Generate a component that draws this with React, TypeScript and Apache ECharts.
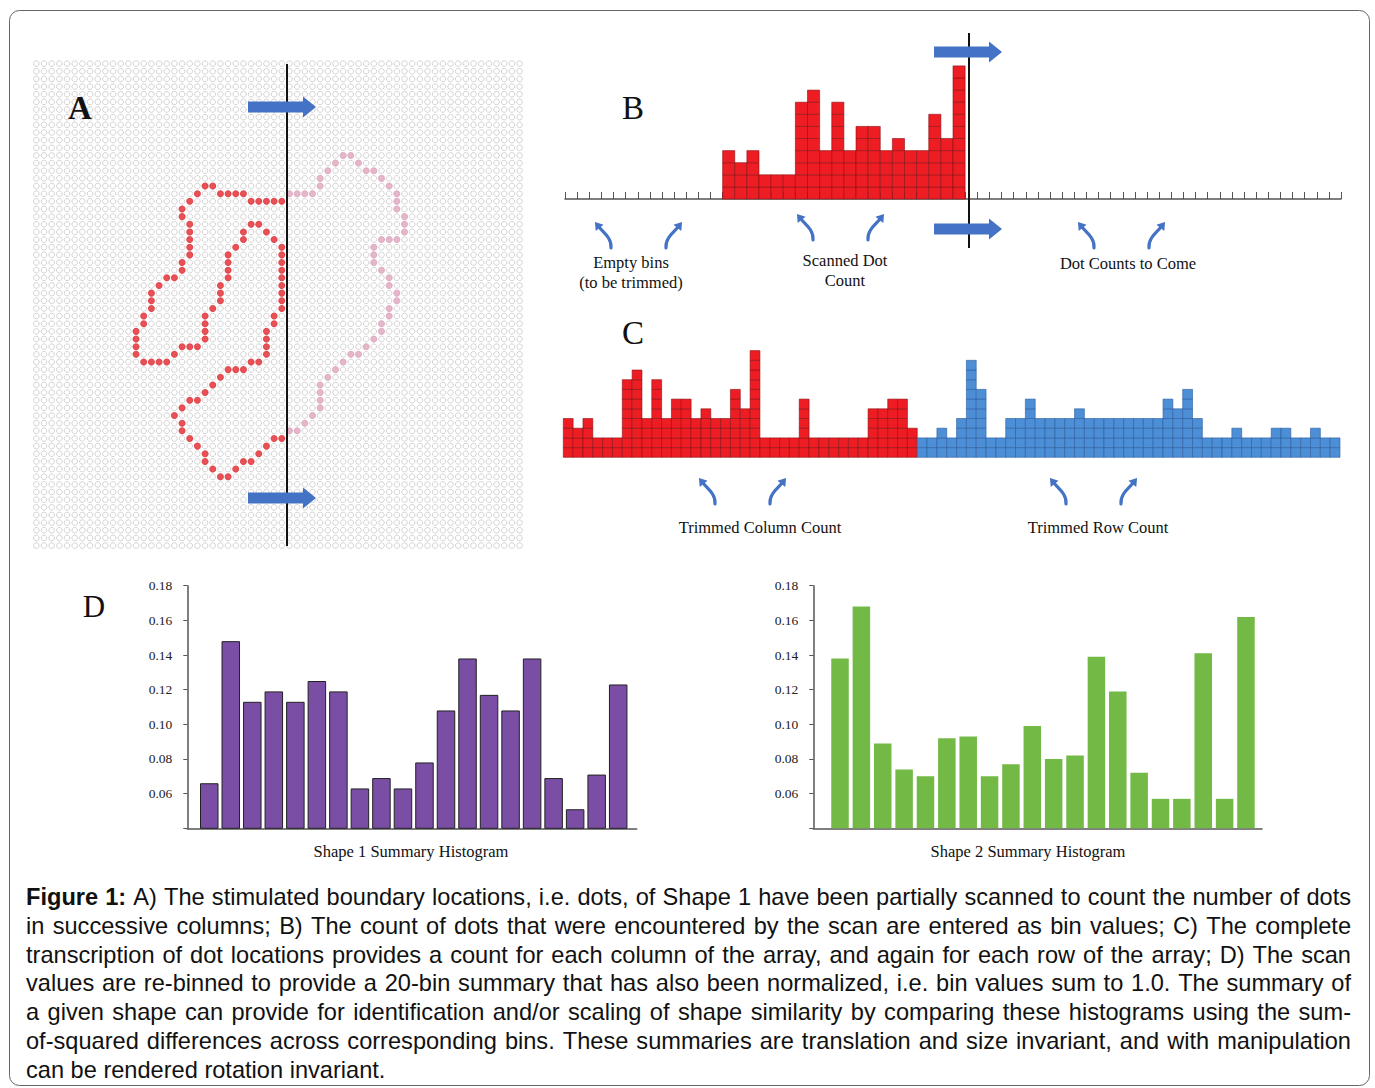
import React, { useEffect, useRef } from 'react';
import * as echarts from 'echarts';

// ---------- DATA ----------
const GRID_SIZE = 64; // 64 x 64 dot array
const SCAN_LAST_COL = 32; // columns <= this have been scanned
const SHAPE_FIRST_ROW = 12;
// columns of Shape 1 boundary dots, one list per row starting at SHAPE_FIRST_ROW
const SHAPE_ROWS: number[][] = [
  [40, 41],
  [39, 42],
  [38, 43, 44],
  [37, 45],
  [22, 23, 37, 46],
  [21, 24, 25, 26, 27, 33, 34, 35, 36, 47],
  [20, 28, 29, 30, 31, 32, 47],
  [19, 47],
  [19, 48],
  [20, 28, 29, 48],
  [20, 27, 30, 48],
  [20, 27, 31, 45, 46, 47],
  [20, 26, 32, 44],
  [20, 25, 32, 44],
  [19, 25, 32, 44],
  [19, 25, 32, 45],
  [17, 18, 25, 32, 46],
  [16, 24, 32, 46],
  [15, 24, 32, 47],
  [15, 24, 32, 47],
  [15, 23, 32, 46],
  [14, 22, 31, 46],
  [14, 22, 31, 45],
  [13, 22, 30, 45],
  [13, 22, 30, 44],
  [13, 19, 20, 21, 30, 43],
  [13, 18, 30, 41, 42],
  [14, 15, 16, 17, 28, 29, 40],
  [25, 26, 27, 39],
  [24, 38],
  [23, 37],
  [22, 37],
  [20, 21, 37],
  [19, 37],
  [18, 36],
  [19, 35],
  [19, 33, 34],
  [20, 31, 32],
  [21, 30],
  [22, 29],
  [22, 27, 28],
  [23, 26],
  [24, 25],
];

const SCAN_BINS = 64;
const SCAN_BIN_START = 13;
const SCANNED_COUNTS = [4, 3, 4, 2, 2, 2, 8, 9, 4, 8, 4, 6, 6, 4, 5, 4, 4, 7, 5, 11];

const COLUMN_COUNTS = [
  4, 3, 4, 2, 2, 2, 8, 9, 4, 8, 4, 6, 6, 4, 5, 4, 4, 7, 5, 11,
  2, 2, 2, 2, 6, 2, 2, 2, 2, 2, 2, 5, 5, 6, 6, 3,
];
const ROW_COUNTS = [
  2, 2, 3, 2, 4, 10, 7, 2, 2, 4, 4, 6, 4, 4, 4, 4, 5, 4, 4, 4, 4, 4,
  4, 4, 4, 6, 5, 7, 4, 2, 2, 2, 3, 2, 2, 2, 3, 3, 2, 2, 3, 2, 2,
];

const SHAPE1_HIST = [
  0.066, 0.148, 0.113, 0.119, 0.113, 0.125, 0.119, 0.063, 0.069, 0.063,
  0.078, 0.108, 0.138, 0.117, 0.108, 0.138, 0.069, 0.051, 0.071, 0.123,
];
const SHAPE2_HIST = [
  0.138, 0.168, 0.089, 0.074, 0.07, 0.092, 0.093, 0.07, 0.077, 0.099,
  0.08, 0.082, 0.139, 0.119, 0.072, 0.057, 0.057, 0.141, 0.057, 0.162,
];
const HIST_MIN = 0.04;
const HIST_MAX = 0.18;
const HIST_STEP = 0.02;

const CAPTION_LINES = [
  'Figure 1: A) The stimulated boundary locations, i.e. dots, of Shape 1 have been partially scanned to count the number of dots',
  'in successive columns; B) The count of dots that were encountered by the scan are entered as bin values; C) The complete',
  'transcription of dot locations provides a count for each column of the array, and again for each row of the array; D) The scan',
  'values are re-binned to provide a 20-bin summary that has also been normalized, i.e. bin values sum to 1.0. The summary of',
  'a given shape can provide for identification and/or scaling of shape similarity by comparing these histograms using the sum-',
  'of-squared differences across corresponding bins. These summaries are translation and size invariant, and with manipulation',
  'can be rendered rotation invariant.',
];

// ---------- STYLE ----------
const SERIF = '"Liberation Serif", "DejaVu Serif", serif';
const SANS = '"Liberation Sans", Arial, sans-serif';
const BLUE = '#4472c4';
const RED = '#ee1d23';
const RED_LINE = '#8a1014';
const CELL_BLUE = '#4d8fd6';
const CELL_BLUE_LINE = '#2a5c9e';
const TOP_Z = 100;

let measureCtx: CanvasRenderingContext2D | null = null;
function textWidth(t: string, font: string) {
  if (!measureCtx) measureCtx = document.createElement('canvas').getContext('2d');
  measureCtx!.font = font;
  return measureCtx!.measureText(t).width;
}

function cellColumns(fill: string, stroke: string) {
  return (_p: any, api: any) => {
    const idx = api.value(0);
    const n = api.value(1);
    const sz = api.size([1, 1]);
    const w = sz[0];
    const h = sz[1];
    const children: any[] = [];
    for (let k = 0; k < n; k++) {
      const p = api.coord([idx, k + 0.5]);
      children.push({
        type: 'rect',
        shape: { x: p[0] - w / 2, y: p[1] - h / 2, width: w, height: h },
        style: { fill, stroke, lineWidth: 0.6 },
      });
    }
    return { type: 'group', children };
  };
}

function blockArrow(x0: number, yc: number) {
  const L = 68, sh = 5.5, hh = 10.5, hl = 13;
  return {
    type: 'polygon',
    shape: {
      points: [
        [x0, yc - sh], [x0 + L - hl, yc - sh], [x0 + L - hl, yc - hh], [x0 + L, yc],
        [x0 + L - hl, yc + hh], [x0 + L - hl, yc + sh], [x0, yc + sh],
      ],
    },
    style: { fill: BLUE },
    z: TOP_Z,
  };
}

function curlyArrow(x: number, y: number, mirror: boolean) {
  const W = 24;
  const X = (px: number) => (mirror ? x + W - px : x + px);
  const Y = (py: number) => y + py;
  const tail = [18, 27], c1 = [19, 17], c2 = [10, 11], end = [6, 6];
  let dx = end[0] - c2[0], dy = end[1] - c2[1];
  const len = Math.hypot(dx, dy);
  dx /= len; dy /= len;
  const nx = -dy, ny = dx;
  const tip = [end[0] + dx * 6.5, end[1] + dy * 6.5];
  const b = [end[0] - dx * 1, end[1] - dy * 1];
  const pts = [tip, [b[0] + nx * 5, b[1] + ny * 5], [b[0] - nx * 5, b[1] - ny * 5]].map((p) => [X(p[0]), Y(p[1])]);
  return [
    {
      type: 'bezierCurve',
      shape: { x1: X(tail[0]), y1: Y(tail[1]), cpx1: X(c1[0]), cpy1: Y(c1[1]), cpx2: X(c2[0]), cpy2: Y(c2[1]), x2: X(end[0]), y2: Y(end[1]) },
      style: { stroke: BLUE, lineWidth: 3.2, fill: null, lineCap: 'round' },
      z: TOP_Z,
    },
    { type: 'polygon', shape: { points: pts }, style: { fill: BLUE }, z: TOP_Z },
  ];
}

function label(text: string, x: number, y: number, size: number, opts: any = {}) {
  return {
    type: 'text',
    z: TOP_Z,
    style: {
      text, x, y, fill: '#111', fontSize: size, fontFamily: opts.family || SERIF,
      fontWeight: opts.weight || 'normal', textAlign: opts.align || 'center', textVerticalAlign: 'middle',
    },
  };
}

function captionElements() {
  const els: any[] = [];
  const size = 23.6;
  const left = 26, right = 1351;
  const W = right - left;
  CAPTION_LINES.forEach((line, li) => {
    const y = 897 + li * 28.8;
    const words = line.split(' ');
    const fonts = words.map((_, wi) => (li === 0 && wi < 2 ? 'bold' : 'normal'));
    const widths = words.map((w, wi) => textWidth(w, `${fonts[wi]} ${size}px ${SANS}`));
    const total = widths.reduce((a, b) => a + b, 0);
    const last = li === CAPTION_LINES.length - 1;
    const space = textWidth(' ', `normal ${size}px ${SANS}`);
    const gap = last ? space : (W - total) / (words.length - 1);
    let x = left;
    words.forEach((w, wi) => {
      els.push({
        type: 'text',
        z: TOP_Z,
        style: { text: w, x, y, fill: '#111', fontSize: size, fontFamily: SANS, fontWeight: fonts[wi], textAlign: 'left', textVerticalAlign: 'middle' },
      });
      x += widths[wi] + gap;
    });
  });
  return els;
}

export default function App() {
  const ref = useRef<HTMLDivElement>(null);
  useEffect(() => {
    document.body.style.margin = '0';
    document.body.style.overflow = 'hidden';
    const chart = echarts.init(ref.current!, undefined, { renderer: 'svg' });

    const gridDots: number[][] = [];
    for (let r = 0; r < GRID_SIZE; r++) for (let c = 0; c < GRID_SIZE; c++) gridDots.push([c, r]);
    const scanned: number[][] = [];
    const unscanned: number[][] = [];
    SHAPE_ROWS.forEach((cols, i) => {
      cols.forEach((c) => (c <= SCAN_LAST_COL ? scanned : unscanned).push([c, SHAPE_FIRST_ROW + i]));
    });

    const scanCats = Array.from({ length: SCAN_BINS }, (_, i) => String(i));
    const trimCats = Array.from({ length: COLUMN_COUNTS.length + ROW_COUNTS.length }, (_, i) => String(i));

    const hidden = { show: false, splitLine: { show: false } };
    const histY = (gi: number) => ({
      type: 'value', gridIndex: gi, min: HIST_MIN, max: HIST_MAX, interval: HIST_STEP,
      axisLine: { show: true, onZero: false, lineStyle: { color: '#555', width: 1.5 } },
      axisTick: { show: true, length: 4, lineStyle: { color: '#555' } },
      splitLine: { show: false },
      axisLabel: {
        color: '#222', fontFamily: SERIF, fontSize: 13.5, margin: 15,
        formatter: (v: number) => (v < HIST_MIN + 0.005 ? '' : v.toFixed(2)),
      },
    });
    const histX = (gi: number, min: number, max: number) => ({
      type: 'value', gridIndex: gi, min, max,
      axisLine: { show: true, onZero: false, lineStyle: { color: '#555', width: 1.5 } },
      axisTick: { show: false }, axisLabel: { show: false }, splitLine: { show: false },
    });

    const graphic: any[] = [
      { type: 'rect', shape: { x: 9.5, y: 10.5, width: 1360, height: 1075, r: 10 }, style: { fill: 'none', stroke: '#666', lineWidth: 1 }, z: 0 },
      // scan lines
      { type: 'line', shape: { x1: 287, y1: 64, x2: 287, y2: 546 }, style: { stroke: '#111', lineWidth: 2 }, z: TOP_Z },
      { type: 'line', shape: { x1: 969, y1: 33, x2: 969, y2: 248 }, style: { stroke: '#111', lineWidth: 2 }, z: TOP_Z },
      blockArrow(248, 107), blockArrow(248, 498), blockArrow(934, 52), blockArrow(934, 229),
      ...curlyArrow(593, 221, false), ...curlyArrow(660, 221, true),
      ...curlyArrow(795, 213, false), ...curlyArrow(862, 213, true),
      ...curlyArrow(1076, 221, false), ...curlyArrow(1143, 221, true),
      ...curlyArrow(697, 477, false), ...curlyArrow(764, 477, true),
      ...curlyArrow(1048, 477, false), ...curlyArrow(1115, 477, true),
      label('A', 80, 108, 33, { weight: 'bold' }),
      label('B', 633, 108, 33),
      label('C', 633, 333, 33),
      label('D', 94, 606, 31),
      label('Empty bins', 631, 262, 16.5),
      label('(to be trimmed)', 631, 282, 16.5),
      label('Scanned Dot', 845, 260, 16.5),
      label('Count', 845, 280, 16.5),
      label('Dot Counts to Come', 1128, 263, 16.5),
      label('Trimmed Column Count', 760, 527, 16.5),
      label('Trimmed Row Count', 1098, 527, 16.5),
      label('Shape 1 Summary Histogram', 411, 851, 16.5),
      label('Shape 2 Summary Histogram', 1028, 851, 16.5),
      ...captionElements(),
    ];

    chart.setOption({
      animation: false,
      backgroundColor: '#fff',
      grid: [
        { left: 32.5, top: 59.8, width: 490.9, height: 489.6 },
        { left: 565, top: 199 - 12 * 12.1, width: 776, height: 12 * 12.1 },
        { left: 563.3, top: 457.3 - 11 * 9.7, width: 776.7, height: 11 * 9.7 },
        { left: 187.3, top: 585.7, width: 449.4, height: 242.6 },
        { left: 813.3, top: 585.7, width: 448.7, height: 242.6 },
      ],
      xAxis: [
        { type: 'value', gridIndex: 0, min: -0.5, max: GRID_SIZE - 0.5, ...hidden },
        {
          type: 'category', gridIndex: 1, data: scanCats, boundaryGap: true,
          axisLine: { show: true, lineStyle: { color: '#555', width: 1.5 } },
          axisTick: { show: true, inside: true, length: 7, interval: 0, lineStyle: { color: '#555', width: 1 } },
          axisLabel: { show: false }, splitLine: { show: false },
        },
        { type: 'category', gridIndex: 2, data: trimCats, boundaryGap: true, ...hidden },
        histX(3, -1.02, 19.86),
        histX(4, -1.25, 19.75),
      ],
      yAxis: [
        { type: 'value', gridIndex: 0, min: -0.5, max: GRID_SIZE - 0.5, inverse: true, ...hidden },
        { type: 'value', gridIndex: 1, min: 0, max: 12, ...hidden },
        { type: 'value', gridIndex: 2, min: 0, max: 11, ...hidden },
        histY(3),
        histY(4),
      ],
      series: [
        {
          type: 'scatter', xAxisIndex: 0, yAxisIndex: 0, data: gridDots, symbolSize: 5.6, silent: true,
          progressive: 0, progressiveThreshold: 100000, large: false, z: 1,
          itemStyle: { color: 'rgba(255,255,255,0)', borderColor: '#b9b9b9', borderWidth: 0.8 },
        },
        { type: 'scatter', xAxisIndex: 0, yAxisIndex: 0, data: scanned, symbolSize: 7, silent: true, itemStyle: { color: '#e2262c' }, z: 5 },
        { type: 'scatter', xAxisIndex: 0, yAxisIndex: 0, data: unscanned, symbolSize: 7, silent: true, itemStyle: { color: '#e0a4bd' }, z: 5 },
        {
          type: 'custom', xAxisIndex: 1, yAxisIndex: 1, renderItem: cellColumns(RED, RED_LINE),
          data: SCANNED_COUNTS.map((v, i) => [SCAN_BIN_START + i, v]), encode: { x: 0, y: 1 }, z: 3,
        },
        {
          type: 'custom', xAxisIndex: 2, yAxisIndex: 2, renderItem: cellColumns(RED, RED_LINE),
          data: COLUMN_COUNTS.map((v, i) => [i, v]), encode: { x: 0, y: 1 },
        },
        {
          type: 'custom', xAxisIndex: 2, yAxisIndex: 2, renderItem: cellColumns(CELL_BLUE, CELL_BLUE_LINE),
          data: ROW_COUNTS.map((v, i) => [COLUMN_COUNTS.length + i, v]), encode: { x: 0, y: 1 },
        },
        {
          type: 'bar', xAxisIndex: 3, yAxisIndex: 3, barWidth: 18.5,
          data: SHAPE1_HIST.map((v, i) => [i, v]),
          itemStyle: { color: '#7a4ea5', borderColor: '#222', borderWidth: 1 },
        },
        {
          type: 'bar', xAxisIndex: 4, yAxisIndex: 4, barWidth: 17.5,
          data: SHAPE2_HIST.map((v, i) => [i, v]),
          itemStyle: { color: '#72b945' },
        },
      ],
      graphic: { z: TOP_Z, elements: graphic },
    });
    return () => chart.dispose();
  }, []);
  return <div ref={ref} style={{ width: 1375, height: 1088 }} />;
}
